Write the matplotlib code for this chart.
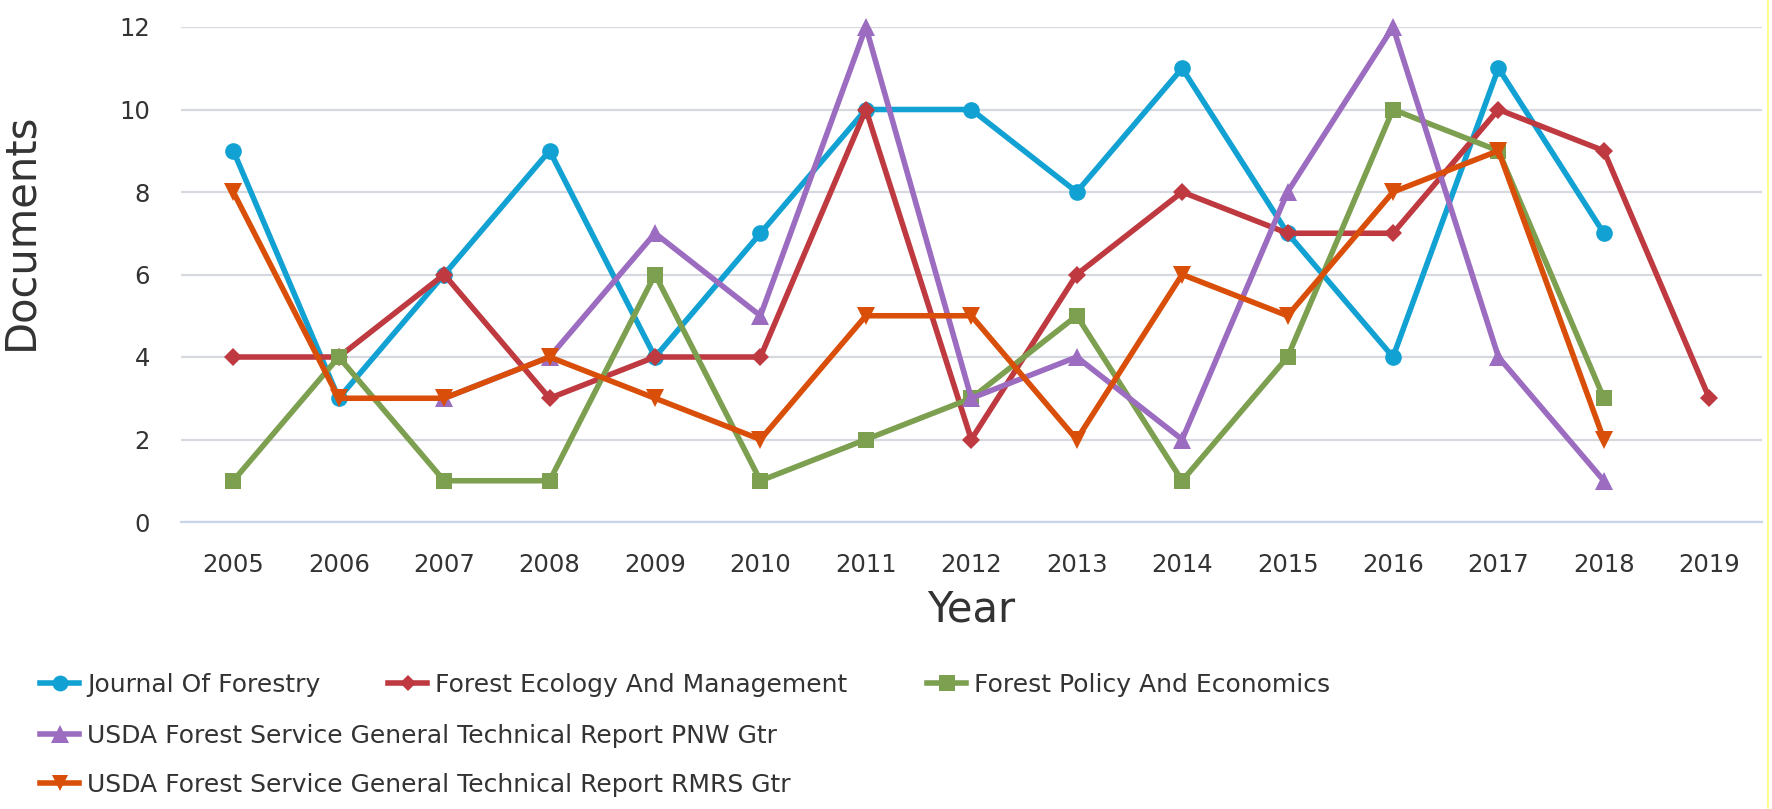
import numpy as np
import matplotlib
matplotlib.use("Agg")
import matplotlib.pyplot as plt
from matplotlib.lines import Line2D

years = ["2005", "2006", "2007", "2008", "2009", "2010", "2011", "2012",
         "2013", "2014", "2015", "2016", "2017", "2018", "2019"]
nan = np.nan
journal_of_forestry = [9, 3, 6, 9, 4, 7, 10, 10, 8, 11, 7, 4, 11, 7, nan]
forest_ecology_mgmt = [4, 4, 6, 3, 4, 4, 10, 2, 6, 8, 7, 7, 10, 9, 3]
forest_policy_econ = [1, 4, 1, 1, 6, 1, 2, 3, 5, 1, 4, 10, 9, 3, nan]
usda_pnw_gtr = [nan, nan, 3, 4, 7, 5, 12, 3, 4, 2, 8, 12, 4, 1, nan]
usda_rmrs_gtr = [8, 3, 3, 4, 3, 2, 5, 5, 2, 6, 5, 8, 9, 2, nan]

series_names = [
    "Journal Of Forestry",
    "Forest Ecology And Management",
    "Forest Policy And Economics",
    "USDA Forest Service General Technical Report PNW Gtr",
    "USDA Forest Service General Technical Report RMRS Gtr",
]
series_values = [journal_of_forestry, forest_ecology_mgmt, forest_policy_econ,
                 usda_pnw_gtr, usda_rmrs_gtr]
colors = ["#12A1D3", "#BE3A40", "#7D9F50", "#9B6CC0", "#D94E08"]
markers = ["o", "D", "s", "^", "v"]
msizes = [12, 9, 12, 13.5, 12.5]

W, H = 1772, 809
fig = plt.figure(figsize=(W / 100, H / 100), dpi=100)
fig.patch.set_facecolor("white")

ax = fig.add_axes([180.6 / W, 1 - 522 / H, (1762 - 180.6) / W, (522 - 27) / H])
x = np.arange(len(years))
handles = []
for vals, name, c, m, ms in zip(series_values, series_names, colors, markers, msizes):
    ln, = ax.plot(x, np.array(vals, dtype=float), color=c, lw=4.0, marker=m,
                  markersize=ms, markeredgewidth=0, clip_on=False, label=name,
                  zorder=3)
    handles.append(ln)

ax.set_xlim(-0.5, len(years) - 0.5)
ax.set_ylim(0, 12)
ax.set_yticks(range(0, 13, 2))
ax.set_xticks(x)
ax.set_xticklabels(years)
ax.tick_params(axis="both", length=0, labelsize=17.5, colors="#333333")
ax.tick_params(axis="y", pad=22)
ax.tick_params(axis="x", pad=22)
ax.grid(axis="y", color="#D7D9E0", lw=1.6)
ax.set_axisbelow(True)
for s in ["left", "right", "top"]:
    ax.spines[s].set_visible(False)
ax.spines["bottom"].set_color("#C9D5EA")
ax.spines["bottom"].set_linewidth(1.6)

fig.text(20 / W, 1 - 231 / H, "Documents", rotation=90, ha="center",
         va="center", fontsize=30, color="#333333")
fig.text(971 / W, 1 - 610 / H, "Year", ha="center", va="center",
         fontsize=30, color="#333333")

leg_pos = [(40, 685), (388, 685), (927, 685), (40, 736), (40, 785)]
for h, (lx, ly) in zip(handles, leg_pos):
    lg = fig.legend(handles=[h], loc="center left",
                    bbox_to_anchor=(lx / W, 1 - ly / H), frameon=False,
                    fontsize=18, handlelength=1.56, handletextpad=0.32,
                    borderpad=0, borderaxespad=0, markerscale=0.95)
    for t in lg.get_texts():
        t.set_color("#333333")

fig.add_artist(Line2D([1768 / W, 1768 / W], [0, 1], color="#FFFF8C", lw=1.5))

fig.savefig("out.png", dpi=100, facecolor="white")
